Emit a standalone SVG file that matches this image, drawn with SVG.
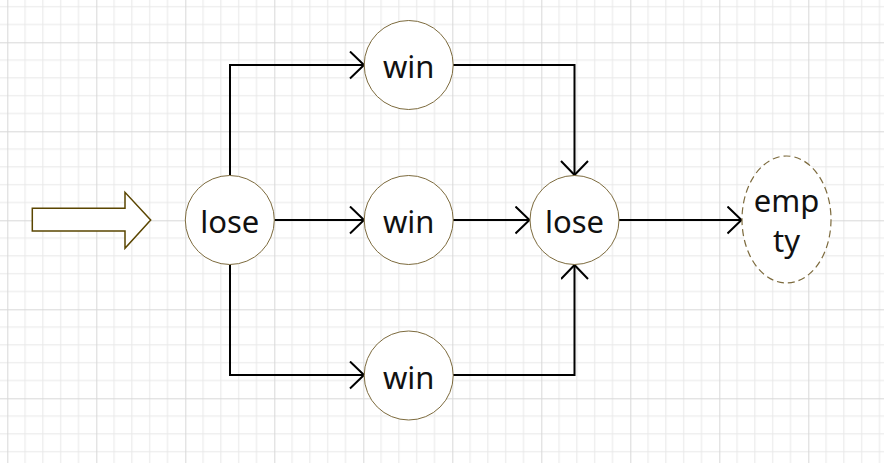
<svg xmlns="http://www.w3.org/2000/svg" width="884" height="463" viewBox="0 0 884 463">
<defs>
<pattern id="grid" patternUnits="userSpaceOnUse" x="7.3" y="42.3" width="89" height="89">
<path d="M17.8 0V89M35.6 0V89M53.4 0V89M71.2 0V89M0 17.8H89M0 35.6H89M0 53.4H89M0 71.2H89" stroke="#e8e8e8" stroke-width="1" fill="none"/>
<path d="M0.5 0V89M0 0.5H89" stroke="#d8d8d8" stroke-width="1" fill="none"/>
</pattern>
<marker id="arr" markerUnits="userSpaceOnUse" markerWidth="20" markerHeight="32" refX="15" refY="14" orient="auto" viewBox="0 0 20 32">
<path d="M1 0.5L15 14L1 27.5" fill="none" stroke="#000" stroke-width="2"/>
</marker>
</defs>
<style>
.node{fill:#fff;stroke:#7d6b3e;stroke-width:1}
.lbl{font-family:"Noto Sans","Open Sans","DejaVu Sans",sans-serif;font-size:31px;fill:#111;text-anchor:middle}
.conn{fill:none;stroke:#000;stroke-width:2;marker-end:url(#arr)}
</style>
<rect width="884" height="463" fill="#fff"/>
<rect width="884" height="463" fill="url(#grid)"/>
<g id="connectors">
<path class="conn" d="M230 175V65H364"/>
<path class="conn" d="M274.5 220H364"/>
<path class="conn" d="M230 265V375H364"/>
<path class="conn" d="M453 65H574.5V175"/>
<path class="conn" d="M453 220H529.5"/>
<path class="conn" d="M453 375H574.5V265"/>
<path class="conn" d="M619 220H741.5"/>
</g>
<g id="start-arrow">
<polygon points="32.3,208.3 125,208.3 125,192.3 150.7,220 125,248.3 125,231 32.3,231" fill="#fff" stroke="#5a4500" stroke-width="1.5"/>
</g>
<g id="lose1">
<circle class="node" cx="229.8" cy="220" r="44.5"/>
<text class="lbl" x="229.8" y="233">lose</text>
</g>
<g id="win1">
<circle class="node" cx="408.7" cy="65" r="44.5"/>
<text class="lbl" x="408.7" y="78">win</text>
</g>
<g id="win2">
<circle class="node" cx="408.7" cy="220" r="44.5"/>
<text class="lbl" x="408.7" y="233">win</text>
</g>
<g id="win3">
<circle class="node" cx="408.7" cy="375.5" r="44.5"/>
<text class="lbl" x="408.7" y="388.5">win</text>
</g>
<g id="lose2">
<circle class="node" cx="574.5" cy="220" r="44.5"/>
<text class="lbl" x="574.5" y="233">lose</text>
</g>
<g id="empty">
<ellipse cx="786.5" cy="219.5" rx="44.5" ry="63.5" fill="#fff" stroke="#7d6b3e" stroke-width="1.2" stroke-dasharray="7 4"/>
<text class="lbl" x="786.5" y="212">emp</text>
<text class="lbl" x="786.5" y="252">ty</text>
</g>
</svg>
